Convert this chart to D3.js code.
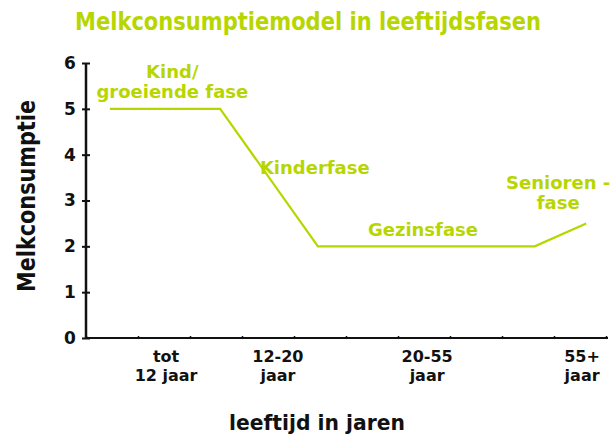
<!DOCTYPE html>
<html>
<head>
<meta charset="utf-8">
<script src="https://cdn.jsdelivr.net/npm/d3@7/dist/d3.min.js"></script>
<style>
  html, body { margin: 0; padding: 0; background: #fff; }
  svg { display: block; }
  text { font-family: "DejaVu Sans", "Liberation Sans", sans-serif; font-weight: bold; }
</style>
</head>
<body>
<svg id="chart" width="610" height="439"></svg>
<script>
// Schematic age position (0-100) and milk consumption per phase
const curveX = [4.6, 25.8, 44.6, 86.3, 96.2];
const curveY = [5, 5, 2, 2, 2.5];

// Age group labels and where they sit along the age axis
const ageGroups = [["tot", "12 jaar"], ["12-20", "jaar"], ["20-55", "jaar"], ["55+", "jaar"]];
const ageGroupX = [15.4, 36.9, 65.6, 95.4];

const yTicks = [0, 1, 2, 3, 4, 5, 6];
const xTicks = [0, 10, 20, 30, 40, 50, 60, 70, 80, 90, 100];

// Phase names with anchor point (age, consumption)
const phaseNames = [["Kind/", "groeiende fase"], ["Kinderfase"], ["Gezinsfase"], ["Senioren -", "fase"]];
const phaseX = [16.6, 44.0, 64.8, 90.8];
const phaseY = [5.68, 3.58, 2.22, 3.25];

const green = "#b7d600";
const svg = d3.select("#chart");

const x = d3.scaleLinear().domain([0, 100]).range([86, 606]);
const y = d3.scaleLinear().domain([0, 6]).range([338, 63]);

// Title
svg.append("text")
  .attr("x", 75).attr("y", 30)
  .attr("textLength", 466).attr("lengthAdjust", "spacingAndGlyphs")
  .style("font-size", "24px").attr("fill", green)
  .text("Melkconsumptiemodel in leeftijdsfasen");

// Y axis
const yAxis = svg.append("g").attr("transform", `translate(${x(0)},0)`)
  .call(d3.axisLeft(y).tickValues(yTicks).tickSize(4).tickFormat(d3.format("d")));
yAxis.select(".domain").attr("d", `M0,${y(6)}V${y(0)}`).attr("stroke", "#111").attr("stroke-width", 2.5);
yAxis.selectAll(".tick line").attr("x1", -4).attr("x2", 4).attr("stroke", "#111").attr("stroke-width", 2);
yAxis.selectAll(".tick text").attr("x", -16).style("font-size", "17px").attr("fill", "#111")
  .attr("text-anchor", "middle");

// X axis (unlabelled ticks)
const xAxis = svg.append("g").attr("transform", `translate(0,${y(0)})`)
  .call(d3.axisTop(x).tickValues(xTicks).tickSize(2).tickFormat(""));
xAxis.select(".domain").attr("d", `M${x(0)},0H${x(100) + 2}`).attr("stroke", "#111").attr("stroke-width", 2);
xAxis.selectAll(".tick line").attr("stroke", "#111").attr("stroke-width", 1.5);

// Age group labels
const groups = svg.append("g");
ageGroups.forEach((lines, i) => {
  lines.forEach((l, j) => {
    groups.append("text").attr("text-anchor", "middle")
      .style("font-size", "16px").attr("fill", "#111")
      .attr("x", x(ageGroupX[i])).attr("y", 362 + j * 19).text(l);
  });
});

// Axis titles
svg.append("text")
  .attr("transform", "translate(35,196) rotate(-90)")
  .attr("text-anchor", "middle")
  .attr("textLength", 192).attr("lengthAdjust", "spacingAndGlyphs")
  .style("font-size", "24px").attr("fill", "#111")
  .text("Melkconsumptie");

svg.append("text")
  .attr("x", 229).attr("y", 430)
  .attr("textLength", 176).attr("lengthAdjust", "spacingAndGlyphs")
  .style("font-size", "22px").attr("fill", "#111")
  .text("leeftijd in jaren");

// Consumption curve
const pts = curveX.map((d, i) => [d, curveY[i]]);
svg.append("path")
  .datum(pts)
  .attr("d", d3.line().x(d => x(d[0])).y(d => y(d[1])))
  .attr("fill", "none").attr("stroke", green).attr("stroke-width", 2.2);

// Phase names
phaseNames.forEach((lines, i) => {
  lines.forEach((l, j) => {
    svg.append("text").attr("text-anchor", "middle")
      .style("font-size", "18px").attr("fill", green)
      .attr("x", x(phaseX[i])).attr("y", y(phaseY[i]) + j * 20).text(l);
  });
});
</script>
</body>
</html>
